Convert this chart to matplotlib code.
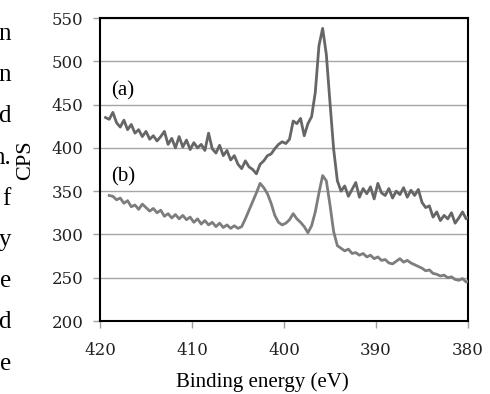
import matplotlib
import numpy as np

matplotlib.use("Agg")
import matplotlib.pyplot as plt  # noqa: E402

plt.rcParams["font.family"] = "DejaVu Serif"

# binding energy grid: first point and step (eV)
start_a, start_b, step = 419.4, 419.0, 0.4

cps_a = [
    435, 433, 441, 429, 424, 432, 421, 427, 417, 421,
    413, 419, 410, 414, 408, 413, 419, 404, 411, 400,
    413, 401, 409, 398, 406, 400, 404, 397, 417, 399,
    394, 403, 391, 397, 386, 391, 381, 376, 385, 378,
    375, 370, 381, 385, 391, 393, 399, 404, 407, 405,
    410, 431, 428, 434, 414, 428, 436, 464, 518, 538,
    508, 452, 398, 362, 350, 356, 344, 352, 360, 343,
    353, 347, 355, 341, 359, 348, 345, 353, 342, 350,
    346, 354, 343, 351, 345, 352, 337, 331, 333, 320,
    326, 316, 322, 318, 325, 313, 319, 326, 318, 321,
]
cps_b = [
    345, 344, 340, 342, 336, 339, 332, 334, 329, 335,
    331, 327, 330, 325, 328, 321, 324, 319, 323, 318,
    322, 317, 320, 314, 318, 312, 316, 311, 314, 309,
    313, 308, 311, 307, 310, 307, 309, 318, 328, 338,
    348, 359, 354, 347, 336, 322, 314, 311, 313, 317,
    324, 318, 314, 309, 302, 310, 326, 348, 368, 362,
    334, 303, 287, 284, 281, 283, 278, 279, 276, 278,
    274, 276, 272, 274, 270, 271, 267, 266, 269, 272,
    268, 270, 267, 265, 263, 261, 258, 259, 255, 254,
    252, 253, 250, 251, 248, 247, 249, 245, 247,
]
energy_a = start_a - step * np.arange(len(cps_a))
energy_b = start_b - step * np.arange(len(cps_b))

x_ticks = [420, 410, 400, 390, 380]
y_ticks = [200, 250, 300, 350, 400, 450, 500, 550]
side_text = ["n", "n", "d", "n.", "f", "y", "e", "d", "e"]

fig = plt.figure(figsize=(4.9, 3.94), dpi=100)
ax = fig.add_axes([100 / 490, 1 - 321 / 394, 368 / 490, 303 / 394])

ax.plot(energy_a, cps_a, color="#666666", linewidth=2.0, zorder=3)
ax.plot(energy_b, cps_b, color="#7d7d7d", linewidth=2.0, zorder=3)

ax.set_xlim(420, 380)
ax.set_ylim(200, 550)
ax.set_xticks(x_ticks)
ax.set_yticks(y_ticks)
ax.yaxis.grid(True, color="#a6a6a6", linewidth=1.0)
ax.set_axisbelow(True)
for spine in ax.spines.values():
    spine.set_color("black")
    spine.set_linewidth(1.5)
ax.tick_params(axis="both", direction="out", length=5, width=1, color="#a0a0a0",
               labelsize=12, labelcolor="#222222")
ax.tick_params(axis="y", pad=7)
ax.tick_params(axis="x", pad=10)

ax.text(418.8, 466, "(a)", family="Liberation Serif", fontsize=15, va="center")
ax.text(418.8, 366, "(b)", family="Liberation Serif", fontsize=15, va="center")

fig.text(262 / 490, 1 - 382 / 394, "Binding energy (eV)", family="Liberation Serif",
         fontsize=15, ha="center", va="center")
fig.text(26 / 490, 1 - 160 / 394, "CPS", family="Liberation Serif", fontsize=16,
         rotation=90, ha="center", va="center")

for i, word in enumerate(side_text):
    fig.text(11 / 490, 1 - (40 + 41.2 * i) / 394, word, family="Liberation Serif",
             fontsize=18, ha="right", va="baseline")

fig.savefig("out.png", dpi=100)
